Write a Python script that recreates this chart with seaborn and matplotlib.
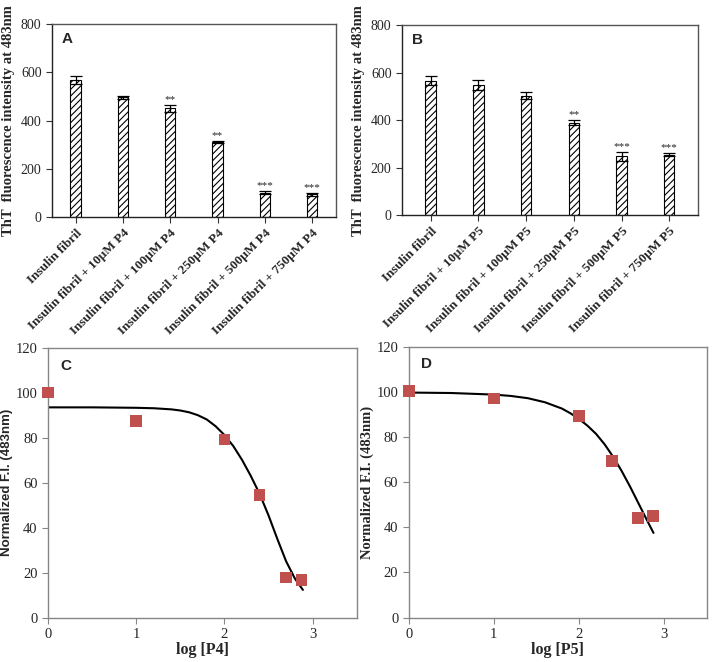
import numpy as np
import pandas as pd
import matplotlib
matplotlib.use('Agg')
import matplotlib.pyplot as plt
import seaborn as sns

# dados dos graficos de barras (A e B)
bar_labels_p4 = ['Insulin fibril', 'Insulin fibril + 10μM P4', 'Insulin fibril + 100μM P4',
                 'Insulin fibril + 250μM P4', 'Insulin fibril + 500μM P4', 'Insulin fibril + 750μM P4']
bar_values_p4 = [568, 496, 451, 310, 101, 94]
bar_errors_p4 = [17, 7, 15, 4, 6, 6]
stars_p4 = ['', '', '**', '**', '***', '***']

bar_labels_p5 = ['Insulin fibril', 'Insulin fibril + 10μM P5', 'Insulin fibril + 100μM P5',
                 'Insulin fibril + 250μM P5', 'Insulin fibril + 500μM P5', 'Insulin fibril + 750μM P5']
bar_values_p5 = [566, 548, 503, 390, 247, 255]
bar_errors_p5 = [19, 21, 15, 10, 18, 6]
stars_p5 = ['', '', '', '**', '***', '***']

# dados das curvas (C e D)
log_p4 = [0, 1, 2, 2.4, 2.7, 2.875]
norm_p4 = [100.3, 87.4, 79.3, 54.7, 17.9, 16.6]
fit_x_p4 = [0, 0.5, 1.0, 1.2, 1.4, 1.5, 1.6, 1.7, 1.8, 1.9, 2.0, 2.1, 2.2, 2.3, 2.4,
            2.5, 2.6, 2.7, 2.8, 2.89]
fit_y_p4 = [93.6, 93.6, 93.4, 93.2, 92.7, 92.2, 91.4, 90.1, 88.2, 85.2, 81.3, 76.4, 70.2,
            63.0, 55.0, 45.5, 35.0, 25.0, 17.3, 12.3]

log_p5 = [0, 1, 2, 2.39, 2.69, 2.87]
norm_p5 = [100.3, 97.0, 89.2, 69.3, 44.0, 45.0]
fit_x_p5 = [0, 0.5, 1.0, 1.2, 1.4, 1.6, 1.8, 1.9, 2.0, 2.1, 2.2, 2.3, 2.4, 2.5, 2.6,
            2.7, 2.8, 2.875]
fit_y_p5 = [99.7, 99.5, 98.8, 98.2, 97.2, 95.4, 92.6, 90.5, 88.0, 85.0, 81.4, 76.8, 71.3,
            65.0, 58.0, 50.5, 43.0, 37.5]

sns.set_style('ticks')
plt.rcParams['font.family'] = ['Liberation Serif', 'DejaVu Serif']
plt.rcParams['hatch.linewidth'] = 0.8

fig = plt.figure(figsize=(7.13, 6.62), dpi=100)
ax_a = fig.add_axes([0.0729, 0.672, 0.398, 0.2915])
ax_b = fig.add_axes([0.5638, 0.675, 0.415, 0.287])
ax_c = fig.add_axes([0.0673, 0.0672, 0.433, 0.407])
ax_d = fig.add_axes([0.5732, 0.0672, 0.418, 0.409])


def bar_panel(ax, labels, values, errors, stars, letter, xlim):
    df = pd.DataFrame({'grupo': labels, 'valor': values})
    sns.barplot(data=df, x='grupo', y='valor', ax=ax, width=0.22, errorbar=None,
                color='white', edgecolor='black', linewidth=0.8)
    for p in ax.patches:
        p.set_hatch('/////')
        p.set_facecolor('white')
    ax.errorbar(range(len(values)), values, yerr=errors, fmt='none', ecolor='black',
                elinewidth=0.9, capsize=4, capthick=0.9)
    for i, s in enumerate(stars):
        if s:
            ax.text(i, values[i] + errors[i] + 4, s, ha='center', va='bottom', fontsize=8)
    ax.set_ylim(0, 800)
    ax.set_xlim(*xlim)
    ax.set_yticks([0, 200, 400, 600, 800])
    ax.set_xticks(range(len(labels)))
    ax.set_xticklabels(labels, rotation=45, ha='right', rotation_mode='anchor',
                       fontsize=9.5, fontweight='bold')
    ax.tick_params(axis='y', labelsize=10, length=4, width=0.8, direction='out', color='#333333')
    ax.tick_params(axis='x', length=4, width=0.8, direction='out', pad=3, color='#333333')
    ax.set_xlabel('')
    ax.set_ylabel('ThT  fluorescence intensity at 483nm', fontsize=10.5, fontweight='bold', labelpad=4)
    for sp in ax.spines.values():
        sp.set_visible(True)
        sp.set_color('#555555')
        sp.set_linewidth(1.0)
    ax.spines['left'].set_color('#222222')
    ax.spines['bottom'].set_color('#222222')
    ax.text(0.035, 0.9, letter, transform=ax.transAxes, fontsize=11, fontweight='bold',
            fontfamily='Liberation Sans')


def curve_panel(ax, xs, ys, fx, fy, letter, xlabel, ylabel, ylabel_family, ylabel_size):
    sns.lineplot(x=fx, y=fy, ax=ax, color='black', linewidth=1.5, sort=False)
    sns.scatterplot(x=xs, y=ys, ax=ax, marker='s', s=70, color='#c0504d', edgecolor='none',
                    zorder=3, clip_on=False)
    ax.set_xlim(0, 3.5)
    ax.set_ylim(0, 120)
    ax.set_xticks([0, 1, 2, 3])
    ax.set_yticks([0, 20, 40, 60, 80, 100, 120])
    ax.tick_params(labelsize=10.5, length=4, width=0.8, direction='out', color='#868686')
    for sp in ax.spines.values():
        sp.set_visible(True)
        sp.set_color('#868686')
        sp.set_linewidth(1.0)
    ax.set_xlabel(xlabel, fontsize=11.5, fontweight='bold', labelpad=1)
    ax.set_ylabel(ylabel, fontsize=ylabel_size, fontweight='bold', labelpad=2)
    ax.yaxis.label.set_fontfamily(ylabel_family)
    ax.text(0.04, 0.92, letter, transform=ax.transAxes, fontsize=11, fontweight='bold',
            fontfamily='Liberation Sans')


bar_panel(ax_a, bar_labels_p4, bar_values_p4, bar_errors_p4, stars_p4, 'A', (-0.5, 5.5))
bar_panel(ax_b, bar_labels_p5, bar_values_p5, bar_errors_p5, stars_p5, 'B', (-0.6, 5.6))
curve_panel(ax_c, log_p4, norm_p4, fit_x_p4, fit_y_p4, 'C', 'log [P4]', 'Normalized F.I. (483nm)',
            'Liberation Sans', 9.5)
curve_panel(ax_d, log_p5, norm_p5, fit_x_p5, fit_y_p5, 'D', 'log [P5]', 'Normalized F.I. (483nm)',
            'Liberation Serif', 10.5)

fig.savefig('out.png', dpi=100)
